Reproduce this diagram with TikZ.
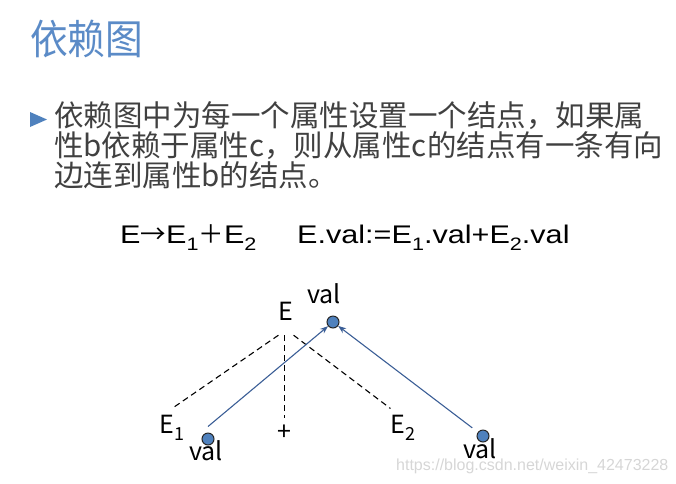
\documentclass[tikz,border=0pt]{standalone}
\usepackage{fontspec}
\usepackage{xcolor}
\usepackage{tikz}
\usetikzlibrary{arrows.meta}
\setmainfont{Noto Sans CJK SC}
\newfontfamily\titlefont[FakeStretch=0.92]{Noto Sans CJK SC}
\newfontfamily\arialfont[FakeStretch=1.2]{Liberation Sans}
\newfontfamily\cjkfont{Noto Sans CJK SC}
\newfontfamily\wmfont{Liberation Sans}
\definecolor{titleblue}{HTML}{5B8BC7}
\definecolor{bulletblue}{HTML}{4F81BD}
\definecolor{bodygray}{HTML}{404040}
\definecolor{arrowblue}{HTML}{3B5E96}
\newcommand{\subidx}[1]{\raisebox{-7pt}{\fontsize{18}{18}\selectfont #1}}
\tikzset{
    heading/.style={anchor=base west, inner sep=0pt, text=titleblue, font=\titlefont\fontsize{41}{41}\selectfont},
    bodyline/.style={anchor=base west, inner sep=0pt, text=bodygray, font=\fontsize{29.5}{30}\selectfont},
    formula/.style={anchor=base west, inner sep=0pt, font=\arialfont\fontsize{25.5}{26}\selectfont},
    attr/.style={anchor=base, inner xsep=0pt, inner ysep=6pt, font=\fontsize{25}{25}\selectfont},
    valdot/.style={circle, draw=black!85, fill=bulletblue, line width=1pt, minimum size=12pt, inner sep=0pt},
    treeedge/.style={dash pattern=on 6pt off 4pt, line width=1.1pt},
    dep/.style={-{Stealth[length=8pt,width=6pt]}, line width=1.1pt, draw=arrowblue},
    wmark/.style={anchor=base west, inner sep=0pt, text=black!16, font=\wmfont\fontsize{16}{16}\selectfont}
}
\begin{document}
\begin{tikzpicture}[x=1pt, y=-1pt]
    \useasboundingbox (0,0) rectangle (676,483);

    % Title and bullet text
    \node[heading] (title) at (30,54) {依赖图};
    \fill[bulletblue] (30,112) -- (47,119.5) -- (30,127) -- cycle;
    \node[bodyline] (line1) at (54,126) {依赖图中为每一个属性设置一个结点，如果属};
    \node[bodyline] (line2) at (54,156) {性b依赖于属性c，则从属性c的结点有一条有向};
    \node[bodyline] (line3) at (54,186) {边连到属性b的结点。};

    % Production and semantic rule
    \node[formula] (prod) at (120,243) {E{\cjkfont →}E\subidx{1}{\cjkfont ＋}E\subidx{2}};
    \node[formula] (rule) at (297,243) {E.val:=E\subidx{1}.val+E\subidx{2}.val};

    % Parse tree
    \node[attr, inner ysep=15pt] (E) at (286,320) {E};
    \node[attr] (E1) at (172,433) {E\subidx{1}};
    \node[attr] (plus) at (284.5,440) {+};
    \node[attr] (E2) at (403,433) {E\subidx{2}};
    \draw[treeedge] (E.south west) -- (E1.north);
    \draw[treeedge] (plus.north |- E.south) -- (plus.north);
    \draw[treeedge] (E.south east) -- (E2.north west);

    % Attribute nodes
    \node[valdot] (tdot) at (333,322) {};
    \node[attr] (tval) at (324,303) {val};
    \node[valdot] (ldot) at (208,439) {};
    \node[attr] (lval) at (206,460) {val};
    \node[valdot] (rdot) at (483,436) {};
    \node[attr] (rval) at (480,458) {val};

    % Dependencies
    \draw[dep] ([yshift=6pt]ldot.north) -- (tdot);
    \draw[dep, shorten <=7pt] (rdot) -- (tdot);

    \node[wmark] (wm) at (396,470) {https://blog.csdn.net/weixin\_42473228};

\end{tikzpicture}
\end{document}
